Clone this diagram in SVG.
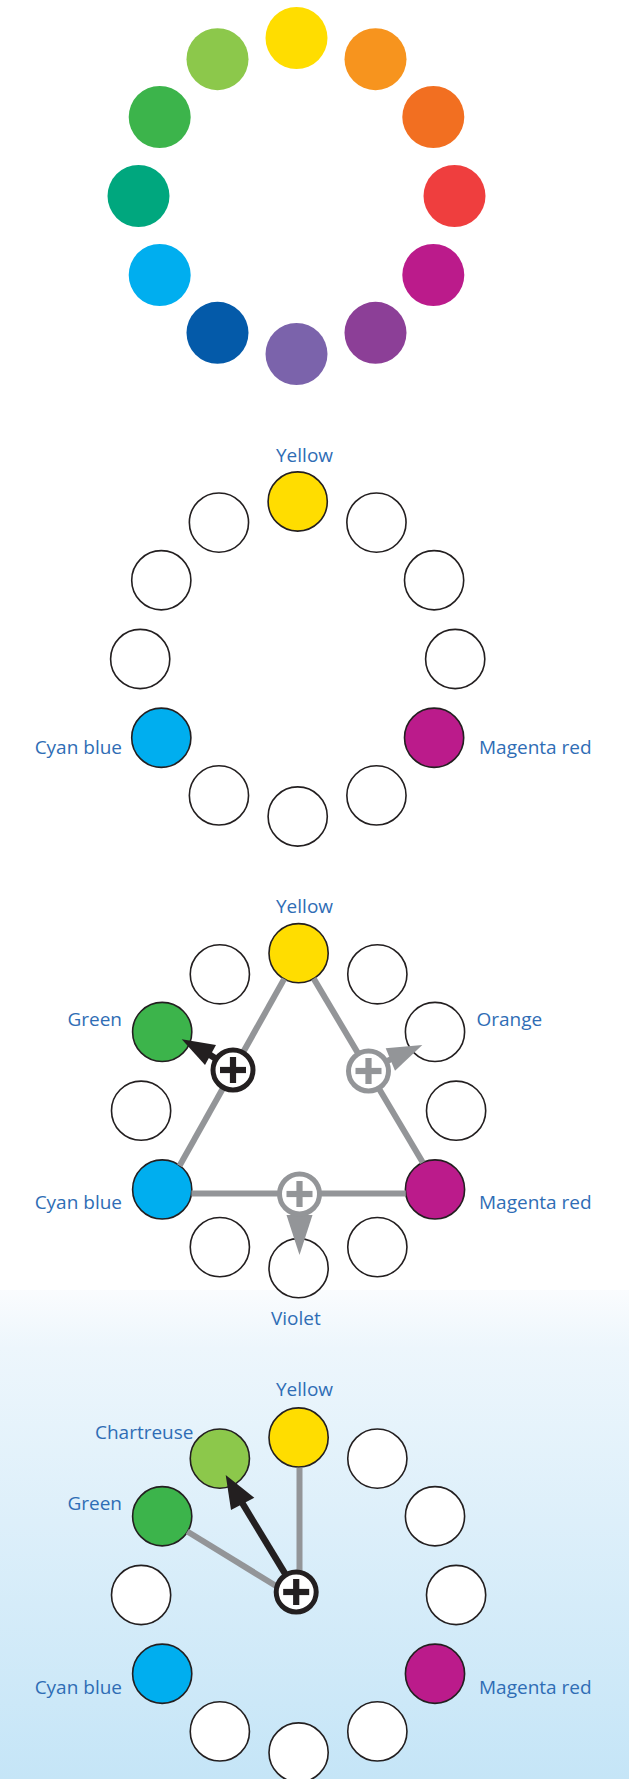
<svg xmlns="http://www.w3.org/2000/svg" width="629" height="1779" viewBox="0 0 629 1779">
  <defs>
    <linearGradient id="bgLower" x1="0" y1="0" x2="0" y2="1">
      <stop offset="0" stop-color="#fafcfe"/>
      <stop offset="0.12" stop-color="#edf6fc"/>
      <stop offset="1" stop-color="#c5e5f7"/>
    </linearGradient>
    <style>
      .dot { stroke: none; }
      .slot { stroke: #231f20; stroke-width: 1.6; }
      .empty { fill: #ffffff; }
      .c-yellow { fill: #ffdd00; }
      .c-orange { fill: #f7941e; }
      .c-redorange { fill: #f26f21; }
      .c-red { fill: #ef3e3e; }
      .c-magenta { fill: #bb1b8b; }
      .c-purple { fill: #8c3f97; }
      .c-violet { fill: #7b63ab; }
      .c-blue { fill: #045aa9; }
      .c-cyan { fill: #00aeef; }
      .c-teal { fill: #00a77e; }
      .c-green { fill: #3cb44b; }
      .c-chartreuse { fill: #8cc84b; }
      .label { font-family: "Open Sans", "Noto Sans", "Liberation Sans", sans-serif; font-size: 19px; fill: #2f6db5; }
      .end { text-anchor: end; }
      .line-gray { stroke: #939598; stroke-width: 6; fill: none; }
      .line-black { stroke: #231f20; stroke-width: 6.5; fill: none; }
      .head-gray { fill: #939598; }
      .head-black { fill: #231f20; }
      .ring-black { fill: #ffffff; stroke: #231f20; stroke-width: 5; }
      .ring-gray { fill: #ffffff; stroke: #939598; stroke-width: 5; }
      .plus-black { fill: #231f20; }
      .plus-gray { fill: #939598; }
    </style>
    <!-- plus operator glyph, centred at the origin -->
    <g id="plusArms">
      <rect x="-13" y="-3.1" width="26" height="6.2"/>
      <rect x="-3.1" y="-13" width="6.2" height="26"/>
    </g>
  </defs>

  <!-- background -->
  <rect x="0" y="0" width="629" height="1779" fill="#ffffff"/>
  <rect x="0" y="1290" width="629" height="489" fill="url(#bgLower)"/>

  <!-- ===== Wheel 1: full twelve-part colour circle ===== -->
  <g id="wheel-full" transform="translate(296.5,196)">
    <g id="w1-yellow"><circle class="dot c-yellow" cx="0" cy="-158" r="31"/></g>
    <g id="w1-orange"><circle class="dot c-orange" cx="79" cy="-136.8" r="31"/></g>
    <g id="w1-redorange"><circle class="dot c-redorange" cx="136.8" cy="-79" r="31"/></g>
    <g id="w1-red"><circle class="dot c-red" cx="158" cy="0" r="31"/></g>
    <g id="w1-magenta"><circle class="dot c-magenta" cx="136.8" cy="79" r="31"/></g>
    <g id="w1-purple"><circle class="dot c-purple" cx="79" cy="136.8" r="31"/></g>
    <g id="w1-violet"><circle class="dot c-violet" cx="0" cy="158" r="31"/></g>
    <g id="w1-blue"><circle class="dot c-blue" cx="-79" cy="136.8" r="31"/></g>
    <g id="w1-cyan"><circle class="dot c-cyan" cx="-136.8" cy="79" r="31"/></g>
    <g id="w1-teal"><circle class="dot c-teal" cx="-158" cy="0" r="31"/></g>
    <g id="w1-green"><circle class="dot c-green" cx="-136.8" cy="-79" r="31"/></g>
    <g id="w1-chartreuse"><circle class="dot c-chartreuse" cx="-79" cy="-136.8" r="31"/></g>
  </g>

  <!-- ===== Wheel 2: the three primaries ===== -->
  <g id="wheel-primaries" transform="translate(297.7,659)">
    <g id="w2-yellow"><circle class="slot c-yellow" cx="0" cy="-157.5" r="29.6"/></g>
    <g id="w2-s1"><circle class="slot empty" cx="78.75" cy="-136.4" r="29.6"/></g>
    <g id="w2-s2"><circle class="slot empty" cx="136.4" cy="-78.75" r="29.6"/></g>
    <g id="w2-s3"><circle class="slot empty" cx="157.5" cy="0" r="29.6"/></g>
    <g id="w2-magenta"><circle class="slot c-magenta" cx="136.4" cy="78.75" r="29.6"/></g>
    <g id="w2-s5"><circle class="slot empty" cx="78.75" cy="136.4" r="29.6"/></g>
    <g id="w2-s6"><circle class="slot empty" cx="0" cy="157.5" r="29.6"/></g>
    <g id="w2-s7"><circle class="slot empty" cx="-78.75" cy="136.4" r="29.6"/></g>
    <g id="w2-cyan"><circle class="slot c-cyan" cx="-136.4" cy="78.75" r="29.6"/></g>
    <g id="w2-s9"><circle class="slot empty" cx="-157.5" cy="0" r="29.6"/></g>
    <g id="w2-s10"><circle class="slot empty" cx="-136.4" cy="-78.75" r="29.6"/></g>
    <g id="w2-s11"><circle class="slot empty" cx="-78.75" cy="-136.4" r="29.6"/></g>
  </g>
  <g id="w2-labels">
    <text class="label" x="276" y="462">Yellow</text>
    <text class="label end" x="122" y="754">Cyan blue</text>
    <text class="label" x="479" y="754">Magenta red</text>
  </g>

  <!-- ===== Wheel 3: primaries mixed into secondaries ===== -->
  <g id="wheel-secondaries" transform="translate(298.6,1110.7)">
    <g id="w3-yellow"><circle class="slot c-yellow" cx="0" cy="-157.5" r="29.6"/></g>
    <g id="w3-s1"><circle class="slot empty" cx="78.75" cy="-136.4" r="29.6"/></g>
    <g id="w3-orange"><circle class="slot empty" cx="136.4" cy="-78.75" r="29.6"/></g>
    <g id="w3-s3"><circle class="slot empty" cx="157.5" cy="0" r="29.6"/></g>
    <g id="w3-magenta"><circle class="slot c-magenta" cx="136.4" cy="78.75" r="29.6"/></g>
    <g id="w3-s5"><circle class="slot empty" cx="78.75" cy="136.4" r="29.6"/></g>
    <g id="w3-violet"><circle class="slot empty" cx="0" cy="157.5" r="29.6"/></g>
    <g id="w3-s7"><circle class="slot empty" cx="-78.75" cy="136.4" r="29.6"/></g>
    <g id="w3-cyan"><circle class="slot c-cyan" cx="-136.4" cy="78.75" r="29.6"/></g>
    <g id="w3-s9"><circle class="slot empty" cx="-157.5" cy="0" r="29.6"/></g>
    <g id="w3-green"><circle class="slot c-green" cx="-136.4" cy="-78.75" r="29.6"/></g>
    <g id="w3-s11"><circle class="slot empty" cx="-78.75" cy="-136.4" r="29.6"/></g>
  </g>
  <g id="w3-labels">
    <text class="label" x="276" y="913">Yellow</text>
    <text class="label end" x="122" y="1026">Green</text>
    <text class="label" x="476.5" y="1026">Orange</text>
    <text class="label end" x="122" y="1209">Cyan blue</text>
    <text class="label" x="479" y="1209">Magenta red</text>
    <text class="label" x="271" y="1325">Violet</text>
  </g>

  <!-- ===== Wheel 4: a secondary mixed with a primary ===== -->
  <g id="wheel-tertiary" transform="translate(298.6,1595)">
    <g id="w4-yellow"><circle class="slot c-yellow" cx="0" cy="-157.5" r="29.6"/></g>
    <g id="w4-s1"><circle class="slot empty" cx="78.75" cy="-136.4" r="29.6"/></g>
    <g id="w4-s2"><circle class="slot empty" cx="136.4" cy="-78.75" r="29.6"/></g>
    <g id="w4-s3"><circle class="slot empty" cx="157.5" cy="0" r="29.6"/></g>
    <g id="w4-magenta"><circle class="slot c-magenta" cx="136.4" cy="78.75" r="29.6"/></g>
    <g id="w4-s5"><circle class="slot empty" cx="78.75" cy="136.4" r="29.6"/></g>
    <g id="w4-s6"><circle class="slot empty" cx="0" cy="157.5" r="29.6"/></g>
    <g id="w4-s7"><circle class="slot empty" cx="-78.75" cy="136.4" r="29.6"/></g>
    <g id="w4-cyan"><circle class="slot c-cyan" cx="-136.4" cy="78.75" r="29.6"/></g>
    <g id="w4-s9"><circle class="slot empty" cx="-157.5" cy="0" r="29.6"/></g>
    <g id="w4-green"><circle class="slot c-green" cx="-136.4" cy="-78.75" r="29.6"/></g>
    <g id="w4-chartreuse"><circle class="slot c-chartreuse" cx="-78.75" cy="-136.4" r="29.6"/></g>
  </g>
  <g id="w4-labels">
    <text class="label" x="276" y="1396">Yellow</text>
    <text class="label end" x="193.5" y="1438.5">Chartreuse</text>
    <text class="label end" x="122" y="1510">Green</text>
    <text class="label end" x="122" y="1694">Cyan blue</text>
    <text class="label" x="479" y="1694">Magenta red</text>
  </g>

  <!-- ===== Connectors ===== -->
  <g id="connectors">
    <!-- wheel 3: triangle of primaries -->
    <line class="line-gray" x1="284.2" y1="978.9" x2="179.6" y2="1165.7"/>
    <line class="line-gray" x1="313.7" y1="978.6" x2="422.8" y2="1162.5"/>
    <line class="line-gray" x1="191.4" y1="1193.5" x2="405.8" y2="1193.5"/>
    <!-- wheel 3: results of each mix -->
    <line class="line-black" x1="233" y1="1070" x2="209" y2="1054.2"/>
    <polygon class="head-black" points="181.7,1039.3 216,1045 205,1065"/>
    <line class="line-gray" x1="368.5" y1="1071" x2="391" y2="1059.2"/>
    <polygon class="head-gray" points="422.3,1045 385.7,1048.3 395,1070.7"/>
    <line class="line-gray" x1="299.5" y1="1194" x2="299.5" y2="1217"/>
    <polygon class="head-gray" points="299.5,1255 286.5,1215 312.5,1215"/>
    <!-- wheel 4: yellow + green gives chartreuse -->
    <line class="line-gray" x1="299.5" y1="1467.5" x2="299.5" y2="1580"/>
    <line class="line-gray" x1="187.3" y1="1531.5" x2="290" y2="1594.5"/>
    <line class="line-black" x1="296.2" y1="1592" x2="241.8" y2="1502.3"/>
    <polygon class="head-black" points="225.7,1475 231,1510 254.3,1497.7"/>
  </g>

  <!-- ===== Mixing operators ===== -->
  <g id="mix-yellow-cyan" transform="translate(233,1070)">
    <circle class="ring-black" r="20"/>
    <use href="#plusArms" class="plus-black"/>
  </g>
  <g id="mix-yellow-magenta" transform="translate(368.5,1071)">
    <circle class="ring-gray" r="20"/>
    <use href="#plusArms" class="plus-gray"/>
  </g>
  <g id="mix-cyan-magenta" transform="translate(299.5,1194)">
    <circle class="ring-gray" r="20"/>
    <use href="#plusArms" class="plus-gray"/>
  </g>
  <g id="mix-yellow-green" transform="translate(296.2,1592)">
    <circle class="ring-black" r="20"/>
    <use href="#plusArms" class="plus-black"/>
  </g>
</svg>
